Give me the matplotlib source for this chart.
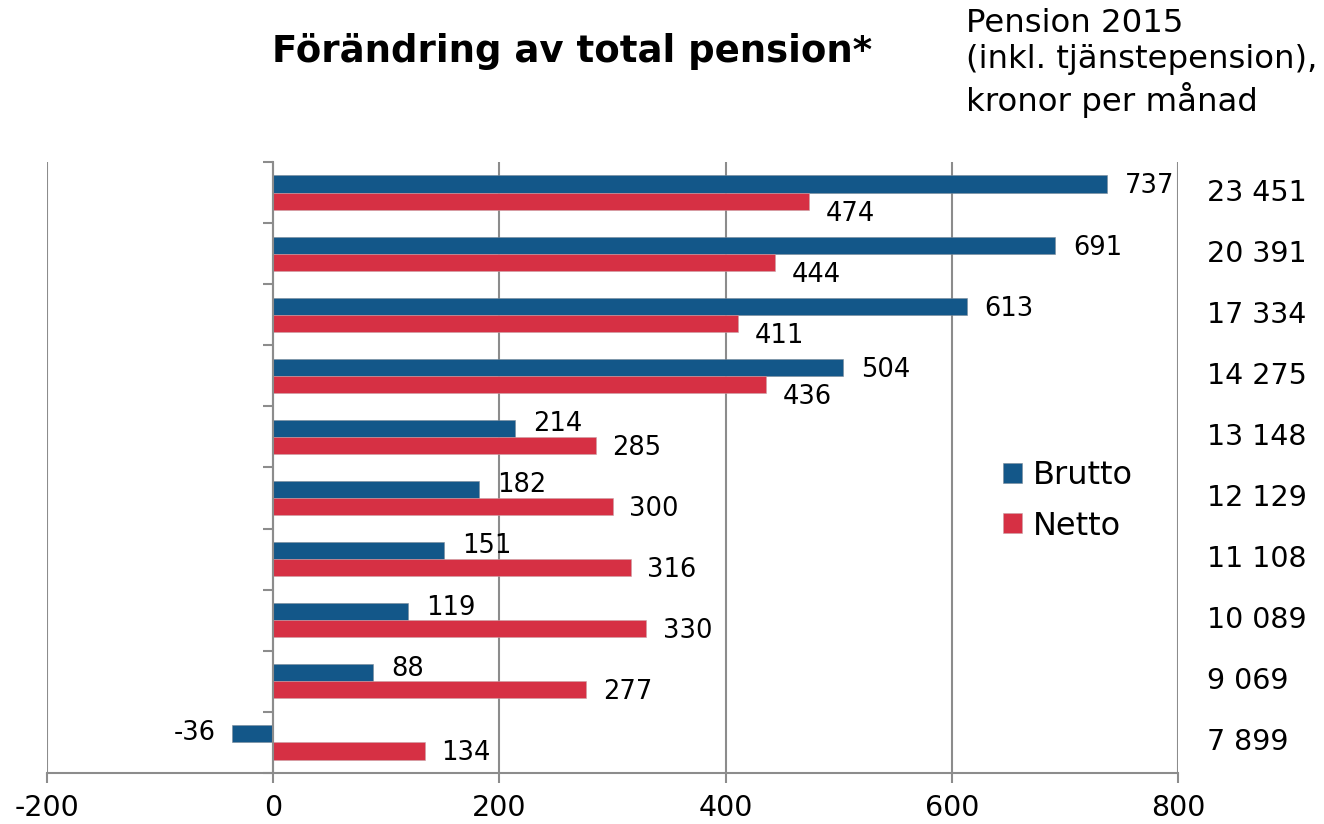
import matplotlib
matplotlib.use("Agg")
import matplotlib.pyplot as plt
import numpy as np

plt.rcParams['font.family'] = ['DejaVu Sans']

pension_labels = ["23 451", "20 391", "17 334", "14 275", "13 148",
                  "12 129", "11 108", "10 089", "9 069", "7 899"]
brutto = [737, 691, 613, 504, 214, 182, 151, 119, 88, -36]
netto = [474, 444, 411, 436, 285, 300, 316, 330, 277, 134]
xticks = [-200, 0, 200, 400, 600, 800]

blue = "#135789"
red = "#D63044"
gray = "#8C8C8C"

fig = plt.figure(figsize=(13.24, 8.24), dpi=100)
ax = fig.add_axes([47/1324, 1-773/824, (1178-47)/1324, (773-162)/824])

n = len(brutto)
y = np.arange(n)
h = 0.28
ax.barh(y - h/2, brutto, height=h, color=blue, edgecolor="#7a8a99", linewidth=0.4, label="Brutto", zorder=3)
ax.barh(y + h/2, netto, height=h, color=red, edgecolor="#c9a0a6", linewidth=0.4, label="Netto", zorder=3)

ax.set_xlim(-200, 800)
ax.set_ylim(n - 0.5, -0.5)

# data labels
for i, (b, nt) in enumerate(zip(brutto, netto)):
    by = -1.8 if b > nt else 3.0
    ny = -9.0 if nt < b else -1.5
    if b >= 0:
        ax.annotate(str(b), (b, i - h/2), xytext=(13, by), textcoords="offset points",
                    ha="left", va="center", fontsize=18.5, zorder=4)
    else:
        ax.annotate(str(b), (b, i - h/2), xytext=(-12, by - 2), textcoords="offset points",
                    ha="right", va="center", fontsize=18.5, zorder=4)
    ax.annotate(str(nt), (nt, i + h/2), xytext=(12, ny), textcoords="offset points",
                ha="left", va="center", fontsize=18.5, zorder=4)

# right-side pension labels
trans = ax.get_yaxis_transform()
for i, lab in enumerate(pension_labels):
    ax.text(1.026, i, lab, transform=trans, ha="left", va="center", fontsize=20.5)

# axes styling
ax.spines['top'].set_visible(False)
ax.spines['right'].set_visible(False)
ax.spines['left'].set_position(('data', 0))
for s in ['left', 'bottom']:
    ax.spines[s].set_color(gray)
    ax.spines[s].set_linewidth(1.5)
    ax.spines[s].set_zorder(5)

ax.set_yticks(np.arange(-0.5, n + 0.5, 1))
ax.set_yticklabels([])
ax.tick_params(axis='y', direction='out', length=7, width=1.5, color=gray, left=True)
ax.set_xticks(xticks)
ax.set_xticklabels([str(t) for t in xticks])
ax.tick_params(axis='x', direction='out', length=7, width=1.5, color=gray, labelsize=20.5, pad=8)
ax.xaxis.grid(True, color=gray, linewidth=1.5, zorder=0)
ax.set_axisbelow(True)

# title and header
fig.text(572/1324, 1-52/824, "Förändring av total pension*", ha="center", va="center",
         fontsize=26.7, fontweight="bold")
fig.text(966/1324, 1-8/824, "Pension 2015\n(inkl. tjänstepension),\nkronor per månad",
         ha="left", va="top", fontsize=23.3, linespacing=1.22)

fig.legend(loc="center left", bbox_to_anchor=(974/1324, 1-501/824), frameon=False,
           fontsize=23, handlelength=0.6, handleheight=0.6, handletextpad=0.35, labelspacing=0.6)

fig.savefig("out.png", dpi=100)
